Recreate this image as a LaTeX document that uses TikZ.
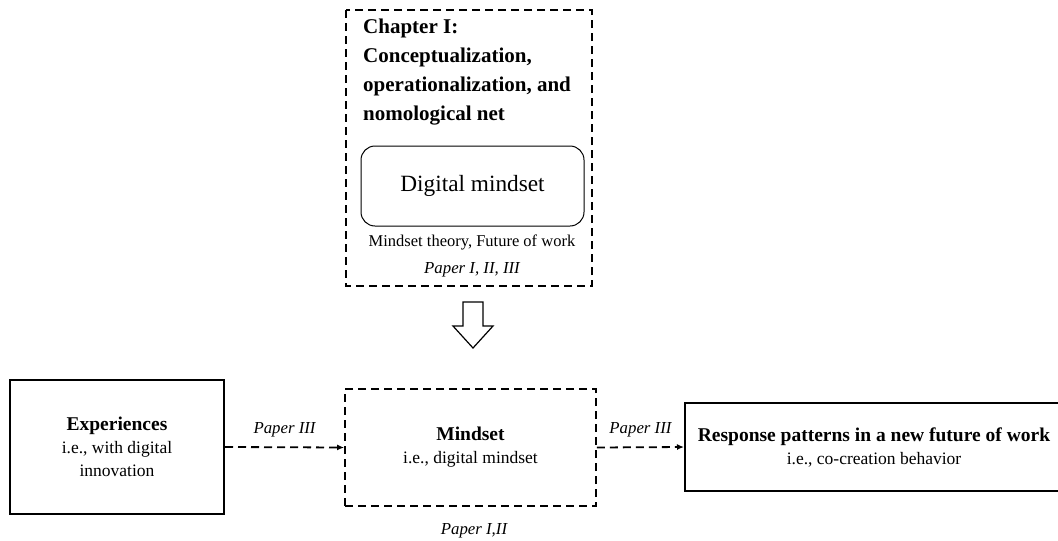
\documentclass[tikz,border=0pt]{standalone}
\usepackage{fontspec}
\setmainfont{Liberation Serif}
\usetikzlibrary{arrows.meta}
\begin{document}
\begin{tikzpicture}[x=1pt,y=-1pt,
  dashbox/.style={draw, line width=1.8pt, dash pattern=on 8pt off 5pt},
  solidbox/.style={draw, line width=2pt},
  flow/.style={line width=1.8pt, dash pattern=on 8pt off 5pt, -{Latex[length=7pt,width=6pt]}},
  txt/.style={font=\fontsize{17.5}{23}\selectfont, align=center},
  lbl/.style={font=\fontsize{16.8}{20}\selectfont\itshape}]
\clip (0,0) rectangle (1058,541);
\useasboundingbox (0,0) rectangle (1058,541);

% chapter frame
\draw[dashbox] (346,10) rectangle (592,286);
\node[anchor=north west, align=left, inner sep=0pt,
      font=\fontsize{21}{29}\selectfont\bfseries] (chap) at (363,19)
  {Chapter I:\\Conceptualization,\\operationalization, and\\nomological net};
\node[draw, line width=1pt, rounded corners=14pt, minimum width=223pt, minimum height=80pt,
      font=\fontsize{23.3}{26}\selectfont] (dm) at (472.5,186) {Digital mindset};
\node[font=\fontsize{16.5}{18}\selectfont] (theory) at (472,242) {Mindset theory, Future of work};
\node[lbl] (pall) at (472,270) {Paper I, II, III};

% hollow down arrow
\draw[line width=1.2pt, line join=miter] (463,302) -- (483,302) -- (483,326) -- (493,326)
  -- (473,348) -- (453,326) -- (463,326) -- cycle;

% lower row
\node[solidbox, minimum width=214pt, minimum height=134pt, txt] (exp) at (117,447)
  {{\bfseries\fontsize{19.5}{23}\selectfont Experiences}\\i.e., with digital\\innovation};
\node[dashbox, minimum width=251pt, minimum height=117pt, txt] (mind) at (470.5,447.5)
  {{\bfseries\fontsize{19.5}{23}\selectfont Mindset}\\i.e., digital mindset};
\node[solidbox, minimum width=378pt, minimum height=88pt, txt] (resp) at (874,447)
  {{\bfseries\fontsize{19.5}{23}\selectfont Response patterns in a new future of work}\\i.e., co-creation behavior};

\draw[flow] (exp.east) -- node[lbl, above=6pt] {Paper III} (mind.west);
\draw[flow] (mind.east) -- node[lbl, above=6pt] {Paper III} (resp.west);
\node[lbl] (p12) at (474,531) {Paper I,II};
\end{tikzpicture}
\end{document}
